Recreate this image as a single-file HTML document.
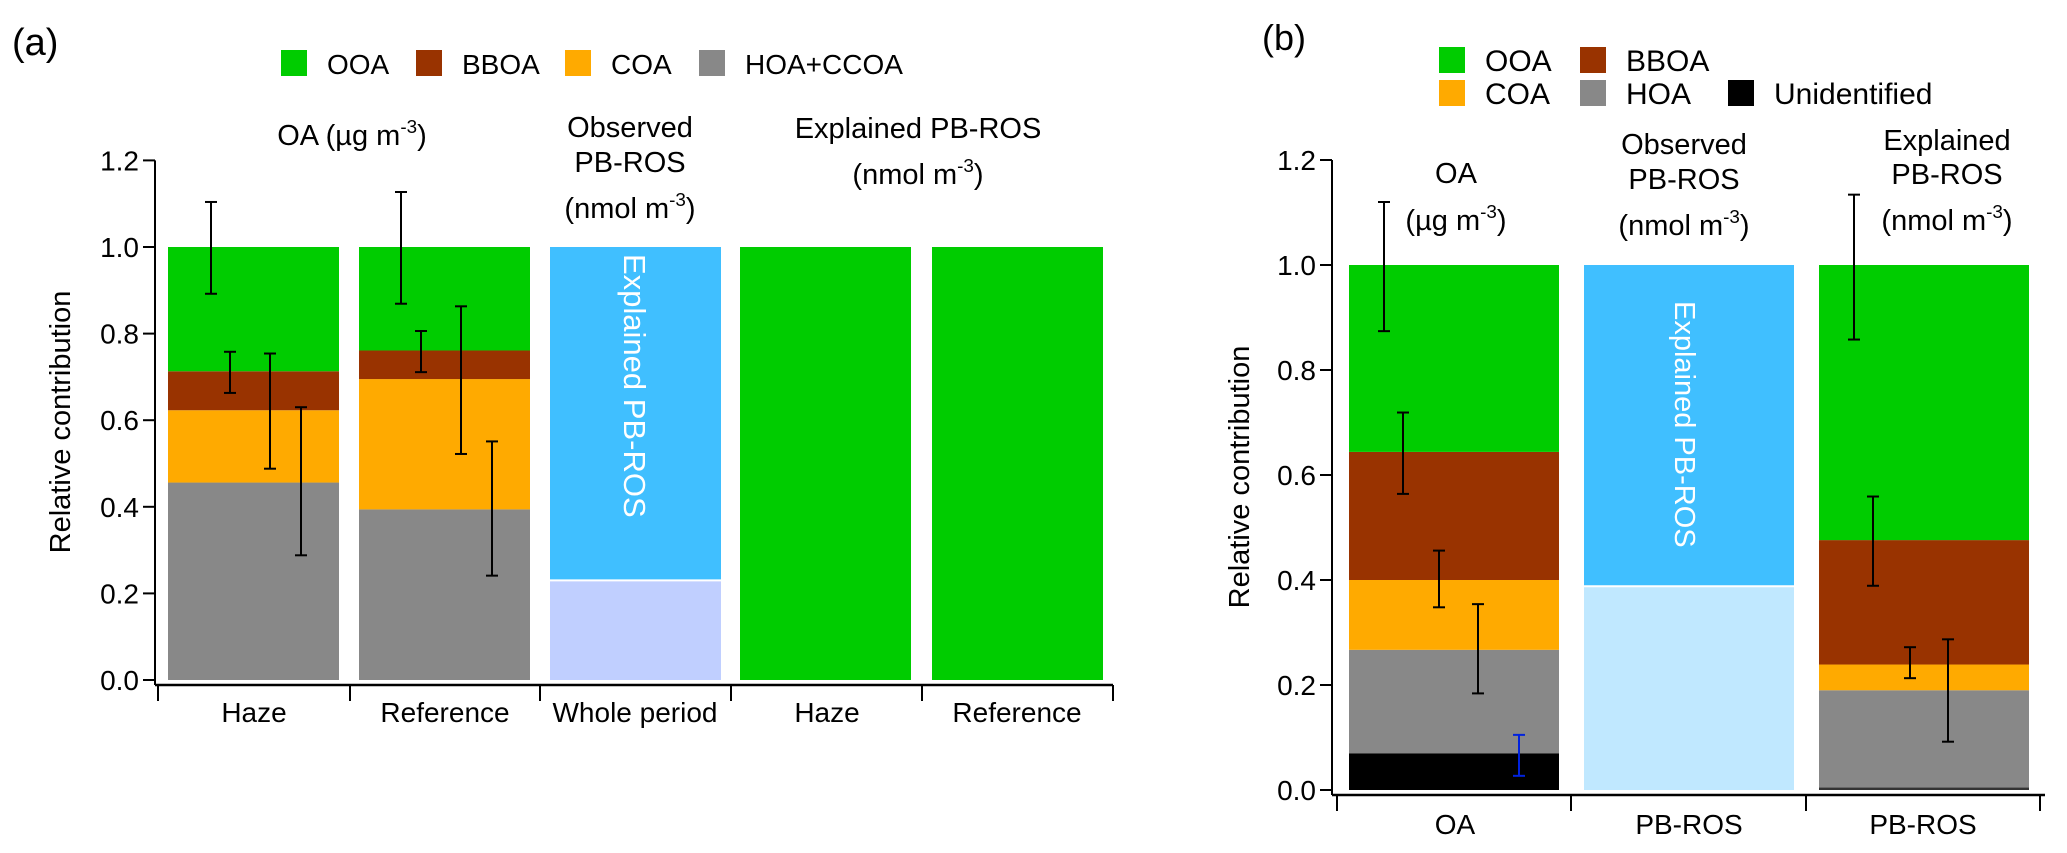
<!DOCTYPE html>
<html><head><meta charset="utf-8"><style>
html,body{margin:0;padding:0;background:#fff;}
svg{display:block;font-family:"Liberation Sans",Arial,sans-serif;}
.n{font-family:"Liberation Sans Narrow","Liberation Sans",sans-serif;}
</style></head><body>
<svg id="chart" width="2067" height="853" viewBox="0 0 2067 853" xmlns="http://www.w3.org/2000/svg">
<text x="12" y="55" font-size="38">(a)</text>
<text x="1262" y="50" font-size="36">(b)</text>
<g id="ga"></g>
<g id="gb"></g>
</svg>
<script>
// ---------- data ----------
const colorsA = ['#888888','#ffaa00','#993300','#00cc00'];
const seriesA = ['HOA+CCOA','COA','BBOA','OOA'];
const categoriesA = ['Haze','Reference','Whole period','Haze','Reference'];
const hazeA = [0.456,0.167,0.09,0.287];
const refA = [0.394,0.301,0.066,0.239];
const errHazeLo = [0.288,0.488,0.663,0.892];
const errHazeHi = [0.63,0.754,0.758,1.104];
const errRefLo = [0.241,0.522,0.711,0.869];
const errRefHi = [0.551,0.863,0.806,1.127];
const wholeA = [0.23,0.77];
const explHazeA = [1.0];
const explRefA = [1.0];
const yTicksA = ['0.0','0.2','0.4','0.6','0.8','1.0','1.2'];

const seriesB = ['Unidentified','HOA','COA','BBOA','OOA'];
const colorsB = ['#000000','#888888','#ffaa00','#993300','#00cc00'];
const categoriesB = ['OA','PB-ROS','PB-ROS'];
const oaB = [0.07,0.197,0.133,0.244,0.356];
const errOaLo = [0.027,0.184,0.348,0.564,0.874];
const errOaHi = [0.105,0.354,0.456,0.719,1.12];
const obsB = [0.388,0.612];
const explB = [0.005,0.185,0.049,0.237,0.524];
const errExLo = [0.092,0.213,0.389,0.858];
const errExHi = [0.287,0.272,0.559,1.134];
const yTicksB = ['0.0','0.2','0.4','0.6','0.8','1.0','1.2'];

const NS='http://www.w3.org/2000/svg';
function mk(parent,tag,attrs,text){const e=document.createElementNS(NS,tag);for(const k in attrs)e.setAttribute(k,attrs[k]);if(text!==undefined)e.textContent=text;parent.appendChild(e);return e;}

function axis(g,o){
  const y=v=>o.y0-v*o.unit;
  mk(g,'line',{x1:o.ax,y1:y(1.2),x2:o.ax,y2:o.axisY,stroke:'#000','stroke-width':2});
  o.ticks.forEach(t=>{const v=parseFloat(t);
    const l=mk(g,'line',{x1:o.ax-12,x2:o.ax,y1:y(v),y2:y(v),stroke:'#000','stroke-width':2});
    
    
    const tx=mk(g,'text',{x:o.ax-16,y:y(v)+10,'font-size':o.tfs,'text-anchor':'end',class:o.cls},t);
    
    
  });
  mk(g,'line',{x1:o.ax,x2:o.axEnd,y1:o.axisY,y2:o.axisY,stroke:'#000','stroke-width':2.5});
  o.xticks.forEach(x=>mk(g,'line',{x1:x,x2:x,y1:o.axisY,y2:o.axisY+16,stroke:'#000','stroke-width':2}));
  o.cats.forEach((c,i)=>{
    const tx=mk(g,'text',{x:o.catX[i],y:o.labY,'font-size':o.lfs,'text-anchor':'middle',class:o.cls},c);
    
    
  });
  const t=mk(g,'text',{transform:`translate(${o.titleX},${o.titleY}) rotate(-90)`,'font-size':o.titfs,'text-anchor':'middle'},o.title);
  
  
  return y;
}
function stack(g,x,w,vals,cols,y,name){
  let acc=0;
  vals.forEach((v,i)=>{
    const r=mk(g,'rect',{x:x,y:y(acc+v),width:w,height:y(acc)-y(acc+v),fill:cols[i]});
    
    
    acc+=v;
  });
}
function err(g,x,lo,hi,y,col){
  const e=mk(g,'g',{stroke:col||'#000','stroke-width':2});
  
  
  mk(e,'line',{x1:x,x2:x,y1:y(lo),y2:y(hi)});
  mk(e,'line',{x1:x-6,x2:x+6,y1:y(lo),y2:y(lo)});
  mk(e,'line',{x1:x-6,x2:x+6,y1:y(hi),y2:y(hi)});
}
function legend(g,x,y,col,label,fs){
  const s=mk(g,'rect',{x:x,y:y-13,width:26,height:26,fill:col});
  
  
  const t=mk(g,'text',{x:x+46,y:y+11,'font-size':fs,class:'n'},label);
  
  
}
function hdr(g,x,lines,fs,name){
  lines.forEach(l=>{
    const t=mk(g,'text',{x:x,y:l.y,'font-size':fs,'text-anchor':'middle',class:'n'});
    
    
    t.appendChild(document.createTextNode(l.t));
    if(l.sup){mk(t,'tspan',{dy:-12,'font-size':fs*0.65},l.sup);mk(t,'tspan',{dy:12},l.end);}
  });
}
// ---------- panel a ----------
const ga=document.getElementById('ga');
const ya=axis(ga,{ax:155,y0:680,unit:433,axisY:685,axEnd:1113,ticks:yTicksA,tfs:28,cls:'n',
  xticks:[158,350,540,731,922,1113],cats:categoriesA,catX:[254,445,635,827,1017],labY:722,lfs:28,
  title:'Relative contribution',titleX:70,titleY:422,titfs:29});
const bw=171, bxA=[168,359,550,740,932];
stack(ga,bxA[0],bw,hazeA,colorsA,ya,'haze-oa');
stack(ga,bxA[1],bw,refA,colorsA,ya,'reference-oa');
stack(ga,bxA[2],bw,wholeA,['#c0cfff','#40bfff'],ya,'whole-period-pbros');
mk(ga,'line',{x1:bxA[2],x2:bxA[2]+bw,y1:ya(wholeA[0]),y2:ya(wholeA[0]),stroke:'#fff','stroke-width':2});
stack(ga,bxA[3],bw,explHazeA,['#00cc00'],ya,'explained-haze');
stack(ga,bxA[4],bw,explRefA,['#00cc00'],ya,'explained-reference');
const exA=[301,270,230,211], exR=[492,461,421,401];
errHazeLo.forEach((v,i)=>err(ga,exA[i],v,errHazeHi[i],ya));
errRefLo.forEach((v,i)=>err(ga,exR[i],v,errRefHi[i],ya));
mk(ga,'text',{transform:'translate(624,254) rotate(90)','font-size':31,fill:'#fff'},'Explained PB-ROS');
['#00cc00','#993300','#ffaa00','#888888'].forEach((c,i)=>legend(ga,[281,416,565,699][i],63,c,['OOA','BBOA','COA','HOA+CCOA'][i],28));
hdr(ga,352,[{y:145,t:'OA (µg m',sup:'-3',end:')'}],29,'header-oa');
hdr(ga,630,[{y:137,t:'Observed'},{y:172,t:'PB-ROS'},{y:218,t:'(nmol m',sup:'-3',end:')'}],29,'header-observed');
hdr(ga,918,[{y:138,t:'Explained PB-ROS'},{y:184,t:'(nmol m',sup:'-3',end:')'}],29,'header-explained');
// ---------- panel b ----------
const gb=document.getElementById('gb');
const yb=axis(gb,{ax:1332,y0:790,unit:525,axisY:795,axEnd:2045,ticks:yTicksB,tfs:28,cls:'n',
  xticks:[1337,1571,1806,2040],cats:categoriesB,catX:[1455,1689,1923],labY:834,lfs:28,
  title:'Relative  contribution',titleX:1249,titleY:477,titfs:29});
const bwb=210, bxB=[1349,1584,1819];
stack(gb,bxB[0],bwb,oaB,colorsB,yb,'oa');
stack(gb,bxB[1],bwb,obsB,['#c0e8ff','#40bfff'],yb,'observed-pbros');
mk(gb,'line',{x1:bxB[1],x2:bxB[1]+bwb,y1:yb(obsB[0]),y2:yb(obsB[0]),stroke:'#fff','stroke-width':2});
stack(gb,bxB[2],bwb,explB,['#333333','#888888','#ffaa00','#993300','#00cc00'],yb,'explained-pbros');
const exO=[1519,1478,1439,1403,1384];
errOaLo.forEach((v,i)=>err(gb,exO[i],v,errOaHi[i],yb,i===0?'#0022dd':'#000'));
const exE=[1948,1910,1873,1854];
errExLo.forEach((v,i)=>err(gb,exE[i],v,errExHi[i],yb));
mk(gb,'text',{transform:'translate(1675,301) rotate(90)','font-size':29,fill:'#fff'},'Explained PB-ROS');
legend(gb,1439,60,'#00cc00','OOA',30);
legend(gb,1580,60,'#993300','BBOA',30);
legend(gb,1439,93,'#ffaa00','COA',30);
legend(gb,1580,93,'#888888','HOA',30);
legend(gb,1728,93,'#000000','Unidentified',30);
hdr(gb,1456,[{y:183,t:'OA'},{y:230,t:'(µg m',sup:'-3',end:')'}],29,'header-oa-b');
hdr(gb,1684,[{y:154,t:'Observed'},{y:189,t:'PB-ROS'},{y:235,t:'(nmol m',sup:'-3',end:')'}],29,'header-observed-b');
hdr(gb,1947,[{y:150,t:'Explained'},{y:184,t:'PB-ROS'},{y:230,t:'(nmol m',sup:'-3',end:')'}],29,'header-explained-b');
</script>
</body></html>
